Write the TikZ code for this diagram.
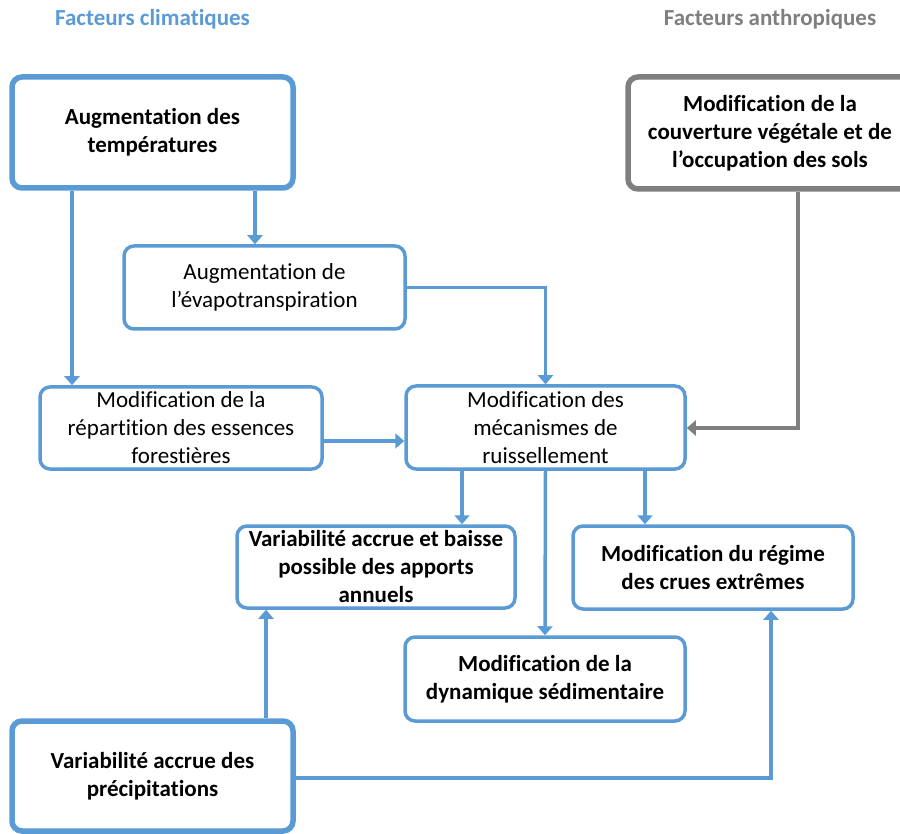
\documentclass[tikz,border=0pt]{standalone}
\usepackage{fontspec}
\setmainfont{Carlito}[Ligatures=NoCommon]
\usetikzlibrary{arrows.meta,calc}
\definecolor{cblue}{RGB}{91,155,213}
\definecolor{cgray}{RGB}{127,127,127}
\begin{document}
\begin{tikzpicture}[x=1pt,y=-1pt,
  box/.style={draw=cblue,line width=3.5pt,rounded corners=10pt,fill=white,align=center,
    font=\fontsize{23}{28}\selectfont,inner sep=0pt},
  bigbox/.style={box,line width=5.5pt,font=\bfseries\fontsize{23}{28}\selectfont},
  boldbox/.style={box,font=\bfseries\fontsize{23}{28}\selectfont},
  arr/.style={draw=cblue,line width=3.5pt,-{Triangle[width=15pt,length=9pt]}},
  title/.style={font=\bfseries\fontsize{23}{27}\selectfont,anchor=base}]
\useasboundingbox (0,0) rectangle (900,834);
\node[title,text=cblue] (t1) at (152.5,26) {Facteurs climatiques};
\node[title,text=cgray] (t2) at (770,26) {Facteurs anthropiques};

\node[bigbox,minimum width=281pt,minimum height=111pt] (A) at (152.5,132.5) {Augmentation des\\températures};
\node[box,minimum width=281pt,minimum height=83pt] (B) at (264.5,287.5) {Augmentation de\\l’évapotranspiration};
\node[bigbox,draw=cgray,minimum width=284pt,minimum height=112pt] (C) at (770,133) {Modification de la\\couverture végétale et de\\l’occupation des sols};
\node[box,minimum width=282pt,minimum height=82pt] (D) at (181,428) {Modification de la\\répartition des essences\\forestières};
\node[box,minimum width=279pt,minimum height=83pt] (E) at (545.5,427.5) {Modification des\\mécanismes de\\ruissellement};
\node[boldbox,minimum width=278pt,minimum height=82pt] (F) at (376,567) {Variabilité accrue et baisse\\possible des apports\\annuels};
\node[boldbox,minimum width=280pt,minimum height=83pt] (G) at (713,567.5) {Modification du régime\\des crues extrêmes};
\node[boldbox,minimum width=280pt,minimum height=84pt] (H) at (545,679) {Modification de la\\dynamique sédimentaire};
\node[bigbox,minimum width=281pt,minimum height=110pt] (I) at (152.5,776) {Variabilité accrue des\\précipitations};

\draw[arr] (A.south -| 72,0) -- (D.north -| 72,0);
\draw[arr] (A.south -| 255,0) -- (B.north -| 255,0);
\draw[arr] (B.east) -| (E.north);
\draw[arr,draw=cgray] (C.south -| 798,0) |- (E.east |- 0,428);
\draw[arr] (D.east |- 0,441) -- (E.west |- 0,441);
\draw[arr] (E.south -| 462,0) -- (F.north -| 462,0);
\draw[arr] (E.south) -- (H.north);
\draw[arr] (E.south -| 645,0) -- (G.north -| 645,0);
\draw[arr] (I.north -| 266,0) -- (F.south -| 266,0);
\draw[arr] (I.east |- 0,778) -| (G.south -| 771,0);
\end{tikzpicture}
\end{document}
